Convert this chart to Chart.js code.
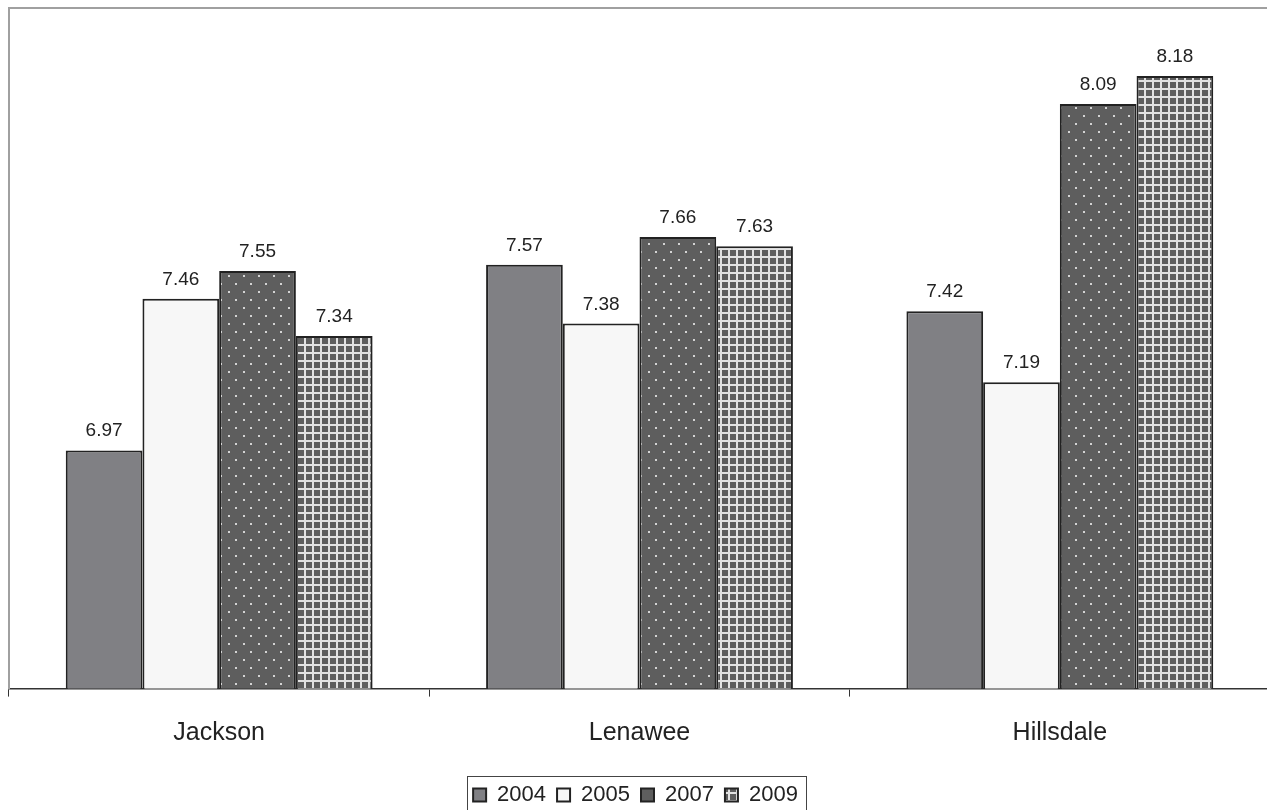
<!DOCTYPE html>
<html>
<head>
<meta charset="UTF-8">
<title>County chart</title>
<script src="https://cdn.jsdelivr.net/npm/chart.js"></script>
<style>
  html, body { margin: 0; padding: 0; background: #fff; overflow: hidden; }
  #wrap { width: 1270px; height: 816px; }
</style>
</head>
<body>
<div id="wrap"><canvas id="countyChart" width="1270" height="816"></canvas></div>
<script>
    // values
    const counties = ['Jackson', 'Lenawee', 'Hillsdale'];
    const years = ['2004', '2005', '2007', '2009'];
    const v2004 = [6.97, 7.57, 7.42];
    const v2005 = [7.46, 7.38, 7.19];
    const v2007 = [7.55, 7.66, 8.09];
    const v2009 = [7.34, 7.63, 8.18];
    const yMin = 6.2;
    const yMax = 8.4;

    const FONT = '"Liberation Sans", Arial, sans-serif';
    const canvas = document.getElementById('countyChart');
    const ctx = canvas.getContext('2d');

    function makePattern(w, h, draw) {
        const tile = document.createElement('canvas');
        tile.width = w;
        tile.height = h;
        draw(tile.getContext('2d'));
        return ctx.createPattern(tile, 'repeat');
    }

    // dark gray with small light dots, staggered rows
    const dots = makePattern(15, 16, function (t) {
        t.fillStyle = '#5e5e5e';
        t.fillRect(0, 0, 15, 16);
        t.fillStyle = '#d4d4d4';
        t.fillRect(3, 3, 2, 2);
        t.fillRect(10, 11, 2, 2);
    });

    // dark squares with light grid lines
    const grid = makePattern(8, 8, function (t) {
        t.fillStyle = '#e2e2e2';
        t.fillRect(0, 0, 8, 8);
        t.fillStyle = '#5e5e5e';
        t.fillRect(2, 2, 6, 6);
    });

    const fills = ['#808084', '#f7f7f7', dots, grid];
    const series = [v2004, v2005, v2007, v2009];

    const valueLabels = {
        id: 'valueLabels',
        afterDatasetsDraw(chart) {
            const c = chart.ctx;
            c.save();
            c.font = '19px ' + FONT;
            c.fillStyle = '#222';
            c.textAlign = 'center';
            c.textBaseline = 'alphabetic';
            chart.data.datasets.forEach(function (ds, i) {
                chart.getDatasetMeta(i).data.forEach(function (bar, j) {
                    c.fillText(ds.data[j].toFixed(2), bar.x, bar.y - 14);
                });
            });
            c.restore();
        }
    };

    const frame = {
        id: 'frame',
        afterDraw(chart) {
            const c = chart.ctx;
            const a = chart.chartArea;
            c.save();
            c.strokeStyle = '#a0a0a0';
            c.lineWidth = 2;
            c.beginPath();
            c.moveTo(a.left, a.top);
            c.lineTo(chart.width, a.top);
            c.stroke();
            // box round the legend
            const boxes = chart.legend.legendHitBoxes;
            if (boxes && boxes.length) {
                const l = Math.min.apply(null, boxes.map(b => b.left));
                const r = Math.max.apply(null, boxes.map(b => b.left + b.width));
                const t = boxes[0].top;
                c.strokeStyle = '#444';
                c.lineWidth = 1;
                c.strokeRect(Math.round(l - 6) + 0.5, Math.round(t - 8) + 0.5, Math.round(r - l + 14), 80);
            }
            c.restore();
        }
    };

    new Chart(ctx, {
        type: 'bar',
        data: {
            labels: counties,
            datasets: years.map(function (y, i) {
                return {
                    label: y,
                    data: series[i],
                    backgroundColor: fills[i],
                    borderColor: '#222',
                    borderWidth: 2,
                    categoryPercentage: 0.73,
                    barPercentage: 1.0
                };
            })
        },
        options: {
            responsive: false,
            animation: false,
            events: [],
            layout: { padding: { top: 8, left: 1, right: 0, bottom: 0 } },
            scales: {
                x: {
                    grid: {
                        display: true,
                        drawOnChartArea: false,
                        drawTicks: true,
                        tickLength: 8,
                        color: '#333',
                        lineWidth: 1
                    },
                    border: { display: true, color: '#333', width: 1.5 },
                    ticks: {
                        color: '#222',
                        padding: 22,
                        font: { family: FONT, size: 25 }
                    },
                    title: {
                        display: true,
                        text: ' ',
                        font: { size: 2 },
                        padding: { top: 0, bottom: 0 }
                    }
                },
                y: {
                    min: yMin,
                    max: yMax,
                    grid: { display: false },
                    border: { display: true, color: '#a0a0a0', width: 2 },
                    ticks: { display: false }
                }
            },
            plugins: {
                legend: {
                    position: 'bottom',
                    labels: {
                        color: '#222',
                        boxWidth: 13,
                        boxHeight: 13,
                        padding: 11,
                        font: { family: FONT, size: 22 }
                    }
                },
                tooltip: { enabled: false }
            }
        },
        plugins: [valueLabels, frame]
    });
</script>
</body>
</html>
